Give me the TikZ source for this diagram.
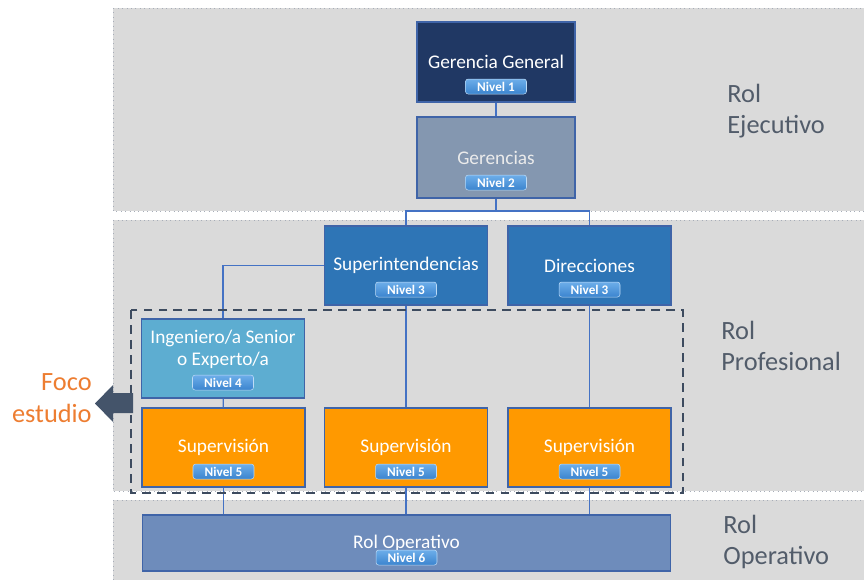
\documentclass[tikz,border=0pt]{standalone}
\usepackage{fontspec}
\setmainfont{Carlito}
\usepackage{xcolor}
\usepackage{tikz}
\usetikzlibrary{positioning}

\definecolor{bandaGris}{HTML}{DADADA}
\definecolor{bordeBanda}{HTML}{A7ADB8}
\definecolor{lineaAzul}{HTML}{4472C4}
\definecolor{bordePuesto}{HTML}{3F64A8}
\definecolor{azulNoche}{HTML}{203864}
\definecolor{azulGris}{HTML}{8497B0}
\definecolor{azulMedio}{HTML}{2E75B6}
\definecolor{celeste}{HTML}{5DADD1}
\definecolor{naranjo}{HTML}{FF9900}
\definecolor{azulOper}{HTML}{6E8CBB}
\definecolor{pizarra}{HTML}{44546A}
\definecolor{focoNaranjo}{HTML}{ED7D31}
\definecolor{rolGris}{HTML}{525C6A}
\definecolor{nivelArriba}{HTML}{6DAEEA}
\definecolor{nivelAbajo}{HTML}{3B84CE}

\begin{document}
\begin{tikzpicture}[x=0.02cm,y=-0.02cm]% 1 unidad = 1 pixel de la imagen
    \tikzset{%
        banda/.style={fill=bandaGris,draw=bordeBanda,dotted,line width=0.5pt},%
        puesto/.style={draw=bordePuesto,line width=0.6pt,inner sep=0pt,
            minimum width=3.26cm,minimum height=1.58cm,text=white,
            align=center,font=\fontsize{11}{12.5}\selectfont},%
        nivel/.style={draw=white!55!nivelArriba,line width=0.3pt,rounded corners=1.5pt,
            top color=nivelArriba,bottom color=nivelAbajo,
            minimum width=1.22cm,minimum height=0.3cm,inner sep=0pt,
            text=white,font=\fontsize{7.5}{8}\selectfont\bfseries},%
        enlace/.style={draw=lineaAzul,line width=0.6pt},%
        rol/.style={anchor=west,align=left,text=rolGris,inner sep=0pt,
            font=\fontsize{15}{18}\selectfont}
    }
    % etiqueta "Nivel n" pegada al borde inferior de cada caja
    \newcommand\Nivel[2]{
        \node[nivel] (#1n) at ([yshift=0.32cm]#1.south) {Nivel #2};
    }
    \useasboundingbox (0,0) rectangle (864,580);
    % bandas de fondo
    \draw[banda] (113,8) rectangle (866,211);
    \draw[banda] (113,220) rectangle (866,491);
    \draw[banda] (113,500) rectangle (866,582);
    % cajas del organigrama
    \node[puesto,fill=azulNoche,minimum width=3.16cm,minimum height=1.6cm]
        (GG) at (496,62) {Gerencia General};
    \node[puesto,fill=azulGris,minimum width=3.16cm,minimum height=1.62cm,
        text=white!92!black] (Ger) at (496,157.5) {Gerencias};
    \node[puesto,fill=azulMedio] (Sup) at (406,265.5) {Superintendencias};
    \node[puesto,fill=azulMedio] (Dir) at (589.5,265.5) {Direcciones};
    \node[puesto,fill=celeste] (Ing) at (223,358.5)
        {Ingeniero/a Senior\\o Experto/a\\\mbox{}};
    \node[puesto,fill=naranjo] (SupA) at (223.5,447.5) {Supervisión};
    \node[puesto,fill=naranjo] (SupB) at (406,447.5) {Supervisión};
    \node[puesto,fill=naranjo] (SupC) at (589.5,447.5) {Supervisión};
    \node[puesto,fill=azulOper,minimum width=10.58cm,minimum height=1.12cm]
        (RolOp) at (406.5,543) {Rol Operativo};
    \Nivel{GG}{1}
    \Nivel{Ger}{2}
    \Nivel{Sup}{3}
    \Nivel{Dir}{3}
    \Nivel{Ing}{4}
    \Nivel{SupA}{5}
    \Nivel{SupB}{5}
    \Nivel{SupC}{5}
    \node[nivel] (RolOpn) at ([yshift=0.28cm]RolOp.south) {Nivel 6};
    % conexiones
    \coordinate (bus) at (496,211);
    \draw[enlace] (GG) -- (Ger);
    \draw[enlace] (Ger.south) -- (bus) -| (Sup.north);
    \draw[enlace] (bus) -| (Dir.north);
    \draw[enlace] (Sup.west) -| (Ing.north);
    \draw[enlace] (Sup) -- (SupB);
    \draw[enlace] (Dir) -- (SupC);
    \draw[enlace] (Ing) -- (SupA);
    \foreach \s in {SupA,SupB,SupC}
        \draw[enlace] (\s.south) -- (\s.south |- RolOp.north);
    % recuadro del foco de estudio
    \draw[pizarra!90!black,line width=1.2pt,dash pattern=on 5pt off 3.5pt]
        (131,310) rectangle (683,493);
    \fill[pizarra] (133,393) -- (113,393) -- (113,385) -- (95,403.5)
        -- (113,422) -- (113,413) -- (133,413) -- cycle;
    \node[anchor=east,align=right,text=focoNaranjo,inner sep=0pt,
        font=\fontsize{15}{18}\selectfont] (foco) at (92,398) {Foco\\estudio};
    % roles
    \node[rol] (rolEje) at (727,111) {Rol\\Ejecutivo};
    \node[rol] (rolPro) at (721,346) {Rol\\Profesional};
    \node[rol] (rolOpe) at (723,542) {Rol\\Operativo};
\end{tikzpicture}
\end{document}
